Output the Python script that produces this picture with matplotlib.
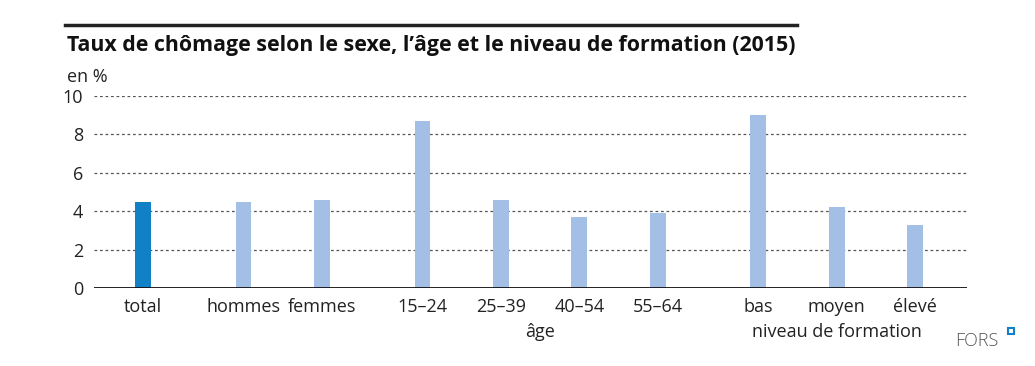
import matplotlib.pyplot as plt
import matplotlib.patches as mpatches

plt.rcParams['font.family'] = ['Open Sans', 'DejaVu Sans']

# data
categories = ['total', 'hommes', 'femmes', '15\u201324', '25\u201339', '40\u201354', '55\u201364',
              'bas', 'moyen', '\u00e9lev\u00e9']
values = [4.5, 4.5, 4.6, 8.7, 4.6, 3.7, 3.9, 9.0, 4.2, 3.3]
groups = [0, 1, 1, 2, 2, 2, 2, 3, 3, 3]
group_labels = {2: '\u00e2ge', 3: 'niveau de formation'}
yticks = [0, 2, 4, 6, 8, 10]

# x positions: unit spacing within a group, wider gap between groups
gap = 1.28
xpos = []
x = 0.0
for i, g in enumerate(groups):
    if i > 0:
        x += 1.0 if g == groups[i - 1] else gap
    xpos.append(x)

dark = '#1280c6'
light = '#a4bfe6'
colors = [dark] + [light] * (len(values) - 1)

fig = plt.figure(figsize=(10.35, 3.66), dpi=100)
ax = fig.add_axes([94 / 1035, 1 - 288 / 366, (967 - 94) / 1035, (288 - 96) / 366])

ax.bar(xpos, values, width=0.2, color=colors, zorder=3)

ax.set_xlim(-0.624, 10.5)
ax.set_ylim(0, 10)
ax.set_yticks(yticks)
ax.set_yticklabels([str(t) for t in yticks], fontsize=13, color='#222222')
ax.set_xticks(xpos)
ax.set_xticklabels(categories, fontsize=13, color='#222222')
ax.tick_params(length=0, axis='both')
ax.tick_params(axis='x', pad=7)
ax.tick_params(axis='y', pad=8)

for t in yticks[1:]:
    ax.axhline(t, color='#555555', lw=0.9, ls=(0, (2.2, 2.2)), zorder=1)
ax.axhline(0, color='#111111', lw=1.3, zorder=4)

for s in ax.spines.values():
    s.set_visible(False)

# group labels under the category labels
for g, lab in group_labels.items():
    xs = [xp for xp, gg in zip(xpos, groups) if gg == g]
    ax.text((xs[0] + xs[-1]) / 2, -0.18, lab, transform=ax.get_xaxis_transform(),
            ha='center', va='top', fontsize=13, color='#222222')

# title, rule, unit
fig.add_artist(plt.Line2D([65 / 1035, 797 / 1035], [1 - 25 / 366] * 2, color='#222222', lw=2.5))
fig.text(67 / 1035, 1 - 46 / 366, 'Taux de ch\u00f4mage selon le sexe, l\u2019\u00e2ge et le niveau de formation (2015)',
         fontsize=15.4, fontweight='bold', va='center', ha='left', color='#111111')
fig.text(67 / 1035, 1 - 77 / 366, 'en %', fontsize=13, va='center', ha='left', color='#222222')

# logo
fig.text(955 / 1035, 1 - 341 / 366, 'FORS', fontsize=13, va='center', ha='left', color='#555555',
         fontweight='light')
fig.add_artist(mpatches.Rectangle((1008 / 1035, 1 - 334 / 366), 6 / 1035, 6 / 366,
                                  transform=fig.transFigure, facecolor='white', edgecolor='#1280c6', lw=1.5))

fig.savefig('out.png', dpi=100)
